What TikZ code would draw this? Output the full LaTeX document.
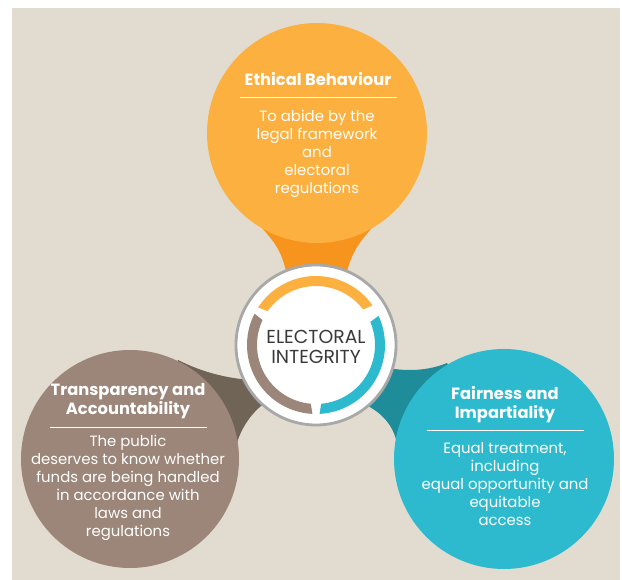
\documentclass[tikz,border=0pt]{standalone}
\usepackage{fontspec}
\setmainfont{Poppins}
\definecolor{bg}{HTML}{E2DCD0}
\definecolor{orA}{HTML}{FBB040}
\definecolor{orB}{HTML}{F7941D}
\definecolor{brA}{HTML}{9C8579}
\definecolor{brB}{HTML}{6F6456}
\definecolor{tlA}{HTML}{2DBACE}
\definecolor{tlB}{HTML}{1F8C9A}
\definecolor{ringgray}{HTML}{A8A8A8}
\definecolor{txtdark}{HTML}{3A3A3A}
\begin{document}
\begin{tikzpicture}[x=1pt,y=-1pt,
  bigdisc/.style={circle,minimum size=220pt,inner sep=0pt,draw=none},
  ttl/.style={text=white,align=center,inner sep=0pt,font=\fontsize{16.3}{19}\selectfont\bfseries},
  bodytxt/.style={text=white,align=center,inner sep=0pt,font=\fontsize{14.9}{18}\selectfont},
  rulew/.style={white,line width=0.9pt}]
\useasboundingbox (0,0) rectangle (622,580);
\fill[white] (0,0) rectangle (622,580);
\fill[bg] (12,8) rectangle (620,580);
% necks
\fill[orB] (262,228) .. controls (276,244) and (285,254) .. (289,290) -- (343,290) .. controls (349,254) and (358,244) .. (372,228) -- (317,150) -- cycle;
\fill[brB] (178,360) .. controls (204,373) and (227,378) .. (250,380) -- (266,402) .. controls (251,413) and (241,428) .. (236,446) -- (130,459) -- cycle;
\fill[tlB] (375,365) .. controls (400,372) and (425,372) .. (447,363) -- (504,459) -- (397,443) .. controls (393,425) and (382,413) .. (366,405) -- cycle;
% outer discs
\node[bigdisc,fill=orA] (eth) at (317,133) {};
\node[bigdisc,fill=brA,minimum size=218pt] (tra) at (130,459) {};
\node[bigdisc,fill=tlA] (fai) at (504,459) {};
% centre
\node[circle,minimum size=160pt,inner sep=0pt,fill=white,draw=ringgray,line width=2.8pt] (cen) at (316,345) {};
\fill[orA] ([shift={(-35:69)}]cen.center) arc[start angle=-35,end angle=-147,radius=69] -- ([shift={(-145:59)}]cen.center) arc[start angle=-145,end angle=-37,radius=59] -- cycle;
\fill[tlA] ([shift={(-25:69)}]cen.center) arc[start angle=-25,end angle=87,radius=69] -- ([shift={(85:59)}]cen.center) arc[start angle=85,end angle=-23,radius=59] -- cycle;
\fill[brA] ([shift={(-153:69)}]cen.center) arc[start angle=-153,end angle=-267,radius=69] -- ([shift={(-265:59)}]cen.center) arc[start angle=-265,end angle=-155,radius=59] -- cycle;
\node[text=txtdark,align=center,inner sep=0pt,font=\fontsize{18.8}{20.5}\selectfont] (centxt) at (316,347) {ELECTORAL\\INTEGRITY};
% texts
\node[ttl] (ethT) at (318,79) {Ethical Behaviour};
\coordinate (ethL) at (240,97); \coordinate (ethR) at (397,97);
\draw[rulew] (ethL) -- (ethR);
\node[bodytxt] (ethB) at (317,154) {To abide by the\\legal framework\\and\\electoral\\regulations};
\node[ttl] (traT) at (128,401) {Transparency and\\Accountability};
\coordinate (traL) at (50,427); \coordinate (traR) at (207,427);
\draw[rulew] (traL) -- (traR);
\node[bodytxt] (traB) at (128,488) {The public\\deserves to know whether\\funds are being handled\\in accordance with\\laws and\\regulations};
\node[ttl] (faiT) at (505,405) {Fairness and\\Impartiality};
\coordinate (faiL) at (427,430); \coordinate (faiR) at (584,430);
\draw[rulew] (faiL) -- (faiR);
\node[bodytxt] (faiB) at (505,484) {Equal treatment,\\including\\equal opportunity and\\equitable\\access};
\end{tikzpicture}
\end{document}
